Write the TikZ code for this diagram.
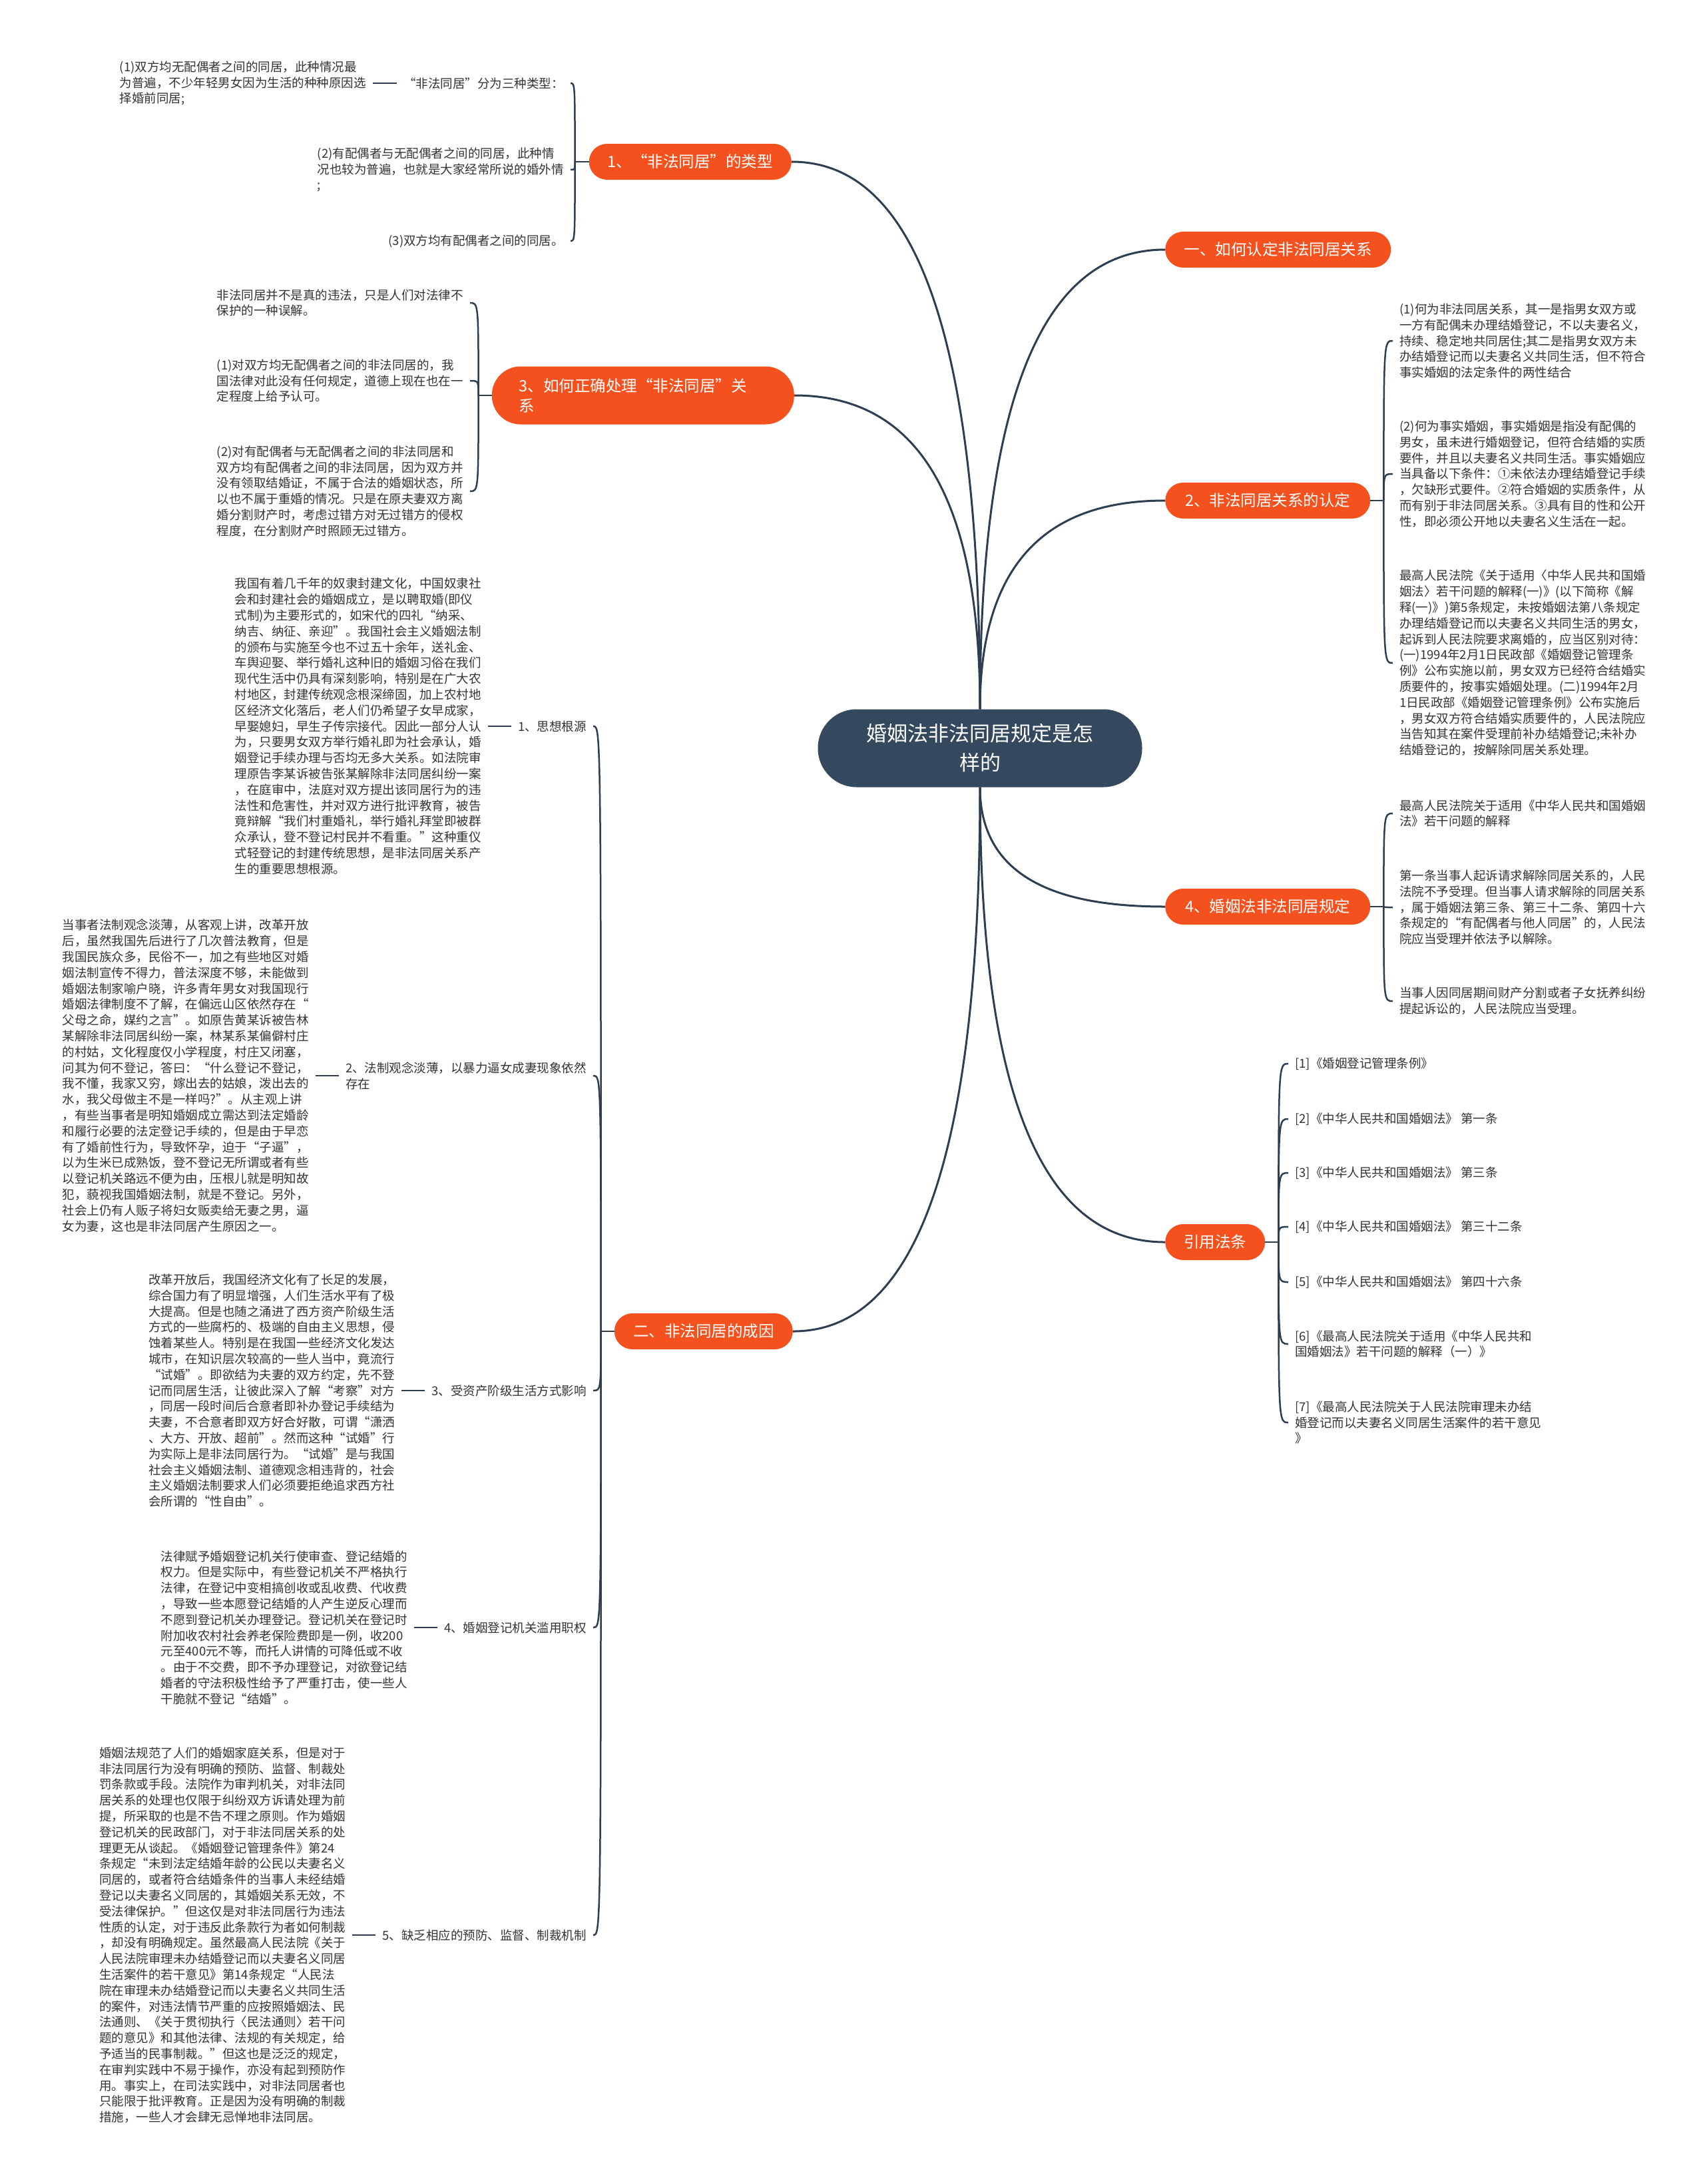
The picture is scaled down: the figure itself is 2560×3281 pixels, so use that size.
\documentclass[tikz,border=0pt]{standalone}
\usepackage{fontspec}
\newfontfamily\cnfont{Noto Sans CJK SC}
\usetikzlibrary{positioning}

\definecolor{hubblue}{HTML}{34495E}
\definecolor{branchred}{HTML}{F4511E}
\definecolor{linkblue}{HTML}{2C3E50}
\definecolor{bodygray}{HTML}{333333}

\begin{document}
\begin{tikzpicture}[x=1pt, y=-1pt,
  hub/.style={fill=hubblue, text=white, rounded corners=58pt, minimum width=487pt, minimum height=117pt, align=center, font=\cnfont\fontsize{31}{44}\selectfont},
  branch/.style={fill=branchred, text=white, rounded corners=27pt, minimum height=54pt, inner xsep=28pt, font=\cnfont\fontsize{23.5}{30}\selectfont},
  leaf/.style={text=bodygray, align=left, inner xsep=10pt, inner ysep=2pt, font=\cnfont\fontsize{18.5}{23.8}\selectfont},
  trunk/.style={draw=linkblue, line width=3pt},
  twig/.style={draw=linkblue, line width=2.5pt}
]
  \fill[white] (0,0) rectangle (2560,3281);
  \useasboundingbox (0,0) rectangle (2560,3281);

  % centre and main branches
  \node (ctr) [hub] at (1472,1124) {婚姻法非法同居规定是怎\\样的};

  \node (identify) [branch, anchor=west, minimum width=339pt] at (1750,375) {一、如何认定非法同居关系};
  \node (recog) [branch, anchor=west, minimum width=308pt] at (1750,752) {2、非法同居关系的认定};
  \node (rules) [branch, anchor=west, minimum width=308pt] at (1750,1362) {4、婚姻法非法同居规定};
  \node (refs) [branch, anchor=west, minimum width=150pt] at (1750,1866) {引用法条};
  \node (types) [branch, anchor=east, minimum width=299pt] at (1189,243) {1、“非法同居”的类型};
  \node (handle) [branch, anchor=east, text width=372pt, inner xsep=41pt, rounded corners=43pt, minimum height=87pt, align=left] at (1193,594) {3、如何正确处理“非法同居”关\\系};
  \node (causes) [branch, anchor=east, minimum width=268pt] at (1191,2000) {二、非法同居的成因};

  \draw[trunk] (ctr.north) .. controls +(0,-566) and +(-139,0) .. (identify.west);
  \draw[trunk] (ctr.north) .. controls +(0,-257) and +(-139,0) .. (recog.west);
  \draw[trunk] (ctr.south) .. controls +(0,148) and +(-139,0) .. (rules.west);
  \draw[trunk] (ctr.south) .. controls +(0,561) and +(-139,0) .. (refs.west);
  \draw[trunk] (ctr.north) .. controls +(0,-674) and +(142,0) .. (types.east);
  \draw[trunk] (ctr.north) .. controls +(0,-386) and +(140,0) .. (handle.east);
  \draw[trunk] (ctr.south) .. controls +(0,671) and +(140,0) .. (causes.east);

  % types of cohabitation
  \node (typeA) [leaf, anchor=east] at (857,125) {“非法同居”分为三种类型：};
  \node (typeA1) [leaf, left=36pt of typeA] {(1)双方均无配偶者之间的同居，此种情况最\\为普遍，不少年轻男女因为生活的种种原因选\\择婚前同居;};
  \node (typeB) [leaf, anchor=east] at (857,255) {(2)有配偶者与无配偶者之间的同居，此种情\\况也较为普遍，也就是大家经常所说的婚外情\\;};
  \node (typeC) [leaf, anchor=east] at (857,362) {(3)双方均有配偶者之间的同居。};
  \draw[twig] (typeA.west) -- (typeA1.east);
  \coordinate (jT) at ([xshift=-21pt]types.west);
  \draw[twig] (types.west) -- (jT);
  \foreach \kid in {typeA,typeB,typeC}
    \draw[twig] (jT) .. controls (jT |- \kid.east) .. (\kid.east);

  % handling
  \node (handleA) [leaf, anchor=east] at (706,455) {非法同居并不是真的违法，只是人们对法律不\\保护的一种误解。};
  \node (handleB) [leaf, anchor=east] at (706,572) {(1)对双方均无配偶者之间的非法同居的，我\\国法律对此没有任何规定，道德上现在也在一\\定程度上给予认可。};
  \node (handleC) [leaf, anchor=east] at (706,738) {(2)对有配偶者与无配偶者之间的非法同居和\\双方均有配偶者之间的非法同居，因为双方并\\没有领取结婚证，不属于合法的婚姻状态，所\\以也不属于重婚的情况。只是在原夫妻双方离\\婚分割财产时，考虑过错方对无过错方的侵权\\程度，在分割财产时照顾无过错方。};
  \coordinate (jH) at ([xshift=-20pt]handle.west);
  \draw[twig] (handle.west) -- (jH);
  \foreach \kid in {handleA,handleB,handleC}
    \draw[twig] (jH) .. controls (jH |- \kid.east) .. (\kid.east);

  % causes
  \node (cause1) [leaf, anchor=east] at (891,1091) {1、思想根源};
  \node (cause2) [leaf, anchor=east] at (891,1616) {2、法制观念淡薄，以暴力逼女成妻现象依然\\存在};
  \node (cause3) [leaf, anchor=east] at (891,2089) {3、受资产阶级生活方式影响};
  \node (cause4) [leaf, anchor=east] at (891,2445) {4、婚姻登记机关滥用职权};
  \node (cause5) [leaf, anchor=east] at (891,2907) {5、缺乏相应的预防、监督、制裁机制};

  \node (why1) [leaf, left=35pt of cause1] {我国有着几千年的奴隶封建文化，中国奴隶社\\会和封建社会的婚姻成立，是以聘取婚(即仪\\式制)为主要形式的，如宋代的四礼“纳采、\\纳吉、纳征、亲迎”。我国社会主义婚姻法制\\的颁布与实施至今也不过五十余年，送礼金、\\车舆迎娶、举行婚礼这种旧的婚姻习俗在我们\\现代生活中仍具有深刻影响，特别是在广大农\\村地区，封建传统观念根深缔固，加上农村地\\区经济文化落后，老人们仍希望子女早成家，\\早娶媳妇，早生子传宗接代。因此一部分人认\\为，只要男女双方举行婚礼即为社会承认，婚\\姻登记手续办理与否均无多大关系。如法院审\\理原告李某诉被告张某解除非法同居纠纷一案\\，在庭审中，法庭对双方提出该同居行为的违\\法性和危害性，并对双方进行批评教育，被告\\竟辩解“我们村重婚礼，举行婚礼拜堂即被群\\众承认，登不登记村民并不看重。”这种重仪\\式轻登记的封建传统思想，是非法同居关系产\\生的重要思想根源。};
  \node (why2) [leaf, left=35pt of cause2] {当事者法制观念淡薄，从客观上讲，改革开放\\后，虽然我国先后进行了几次普法教育，但是\\我国民族众多，民俗不一，加之有些地区对婚\\姻法制宣传不得力，普法深度不够，未能做到\\婚姻法制家喻户晓，许多青年男女对我国现行\\婚姻法律制度不了解，在偏远山区依然存在“\\父母之命，媒约之言”。如原告黄某诉被告林\\某解除非法同居纠纷一案，林某系某偏僻村庄\\的村姑，文化程度仅小学程度，村庄又闭塞，\\问其为何不登记，答曰：“什么登记不登记，\\我不懂，我家又穷，嫁出去的姑娘，泼出去的\\水，我父母做主不是一样吗?”。从主观上讲\\，有些当事者是明知婚姻成立需达到法定婚龄\\和履行必要的法定登记手续的，但是由于早恋\\有了婚前性行为，导致怀孕，迫于“子逼”，\\以为生米已成熟饭，登不登记无所谓或者有些\\以登记机关路远不便为由，压根儿就是明知故\\犯，藐视我国婚姻法制，就是不登记。另外，\\社会上仍有人贩子将妇女贩卖给无妻之男，逼\\女为妻，这也是非法同居产生原因之一。};
  \node (why3) [leaf, left=35pt of cause3] {改革开放后，我国经济文化有了长足的发展，\\综合国力有了明显增强，人们生活水平有了极\\大提高。但是也随之涌进了西方资产阶级生活\\方式的一些腐朽的、极端的自由主义思想，侵\\蚀着某些人。特别是在我国一些经济文化发达\\城市，在知识层次较高的一些人当中，竟流行\\“试婚”。即欲结为夫妻的双方约定，先不登\\记而同居生活，让彼此深入了解“考察”对方\\，同居一段时间后合意者即补办登记手续结为\\夫妻，不合意者即双方好合好散，可谓“潇洒\\、大方、开放、超前”。然而这种“试婚”行\\为实际上是非法同居行为。“试婚”是与我国\\社会主义婚姻法制、道德观念相违背的，社会\\主义婚姻法制要求人们必须要拒绝追求西方社\\会所谓的“性自由”。};
  \node (why4) [leaf, left=35pt of cause4] {法律赋予婚姻登记机关行使审查、登记结婚的\\权力。但是实际中，有些登记机关不严格执行\\法律，在登记中变相搞创收或乱收费、代收费\\，导致一些本愿登记结婚的人产生逆反心理而\\不愿到登记机关办理登记。登记机关在登记时\\附加收农村社会养老保险费即是一例，收200\\元至400元不等，而托人讲情的可降低或不收\\。由于不交费，即不予办理登记，对欲登记结\\婚者的守法积极性给予了严重打击，使一些人\\干脆就不登记“结婚”。};
  \node (why5) [leaf, left=35pt of cause5] {婚姻法规范了人们的婚姻家庭关系，但是对于\\非法同居行为没有明确的预防、监督、制裁处\\罚条款或手段。法院作为审判机关，对非法同\\居关系的处理也仅限于纠纷双方诉请处理为前\\提，所采取的也是不告不理之原则。作为婚姻\\登记机关的民政部门，对于非法同居关系的处\\理更无从谈起。《婚姻登记管理条件》第24\\条规定“未到法定结婚年龄的公民以夫妻名义\\同居的，或者符合结婚条件的当事人未经结婚\\登记以夫妻名义同居的，其婚姻关系无效，不\\受法律保护。”但这仅是对非法同居行为违法\\性质的认定，对于违反此条款行为者如何制裁\\，却没有明确规定。虽然最高人民法院《关于\\人民法院审理未办结婚登记而以夫妻名义同居\\生活案件的若干意见》第14条规定“人民法\\院在审理未办结婚登记而以夫妻名义共同生活\\的案件，对违法情节严重的应按照婚姻法、民\\法通则、《关于贯彻执行〈民法通则〉若干问\\题的意见》和其他法律、法规的有关规定，给\\予适当的民事制裁。”但这也是泛泛的规定，\\在审判实践中不易于操作，亦没有起到预防作\\用。事实上，在司法实践中，对非法同居者也\\只能限于批评教育。正是因为没有明确的制裁\\措施，一些人才会肆无忌惮地非法同居。};

  \foreach \n in {1,...,5}
    \draw[twig] (cause\n.west) -- (why\n.east);
  \coordinate (jC) at ([xshift=-20pt]causes.west);
  \draw[twig] (causes.west) -- (jC);
  \foreach \kid in {cause1,cause2,cause3,cause4,cause5}
    \draw[twig] (jC) .. controls (jC |- \kid.east) .. (\kid.east);

  % recognition
  \node (recogA) [leaf, anchor=west] at (2092,512) {(1)何为非法同居关系，其一是指男女双方或\\一方有配偶未办理结婚登记，不以夫妻名义，\\持续、稳定地共同居住;其二是指男女双方未\\办结婚登记而以夫妻名义共同生活，但不符合\\事实婚姻的法定条件的两性结合};
  \node (recogB) [leaf, anchor=west] at (2092,712) {(2)何为事实婚姻，事实婚姻是指没有配偶的\\男女，虽未进行婚姻登记，但符合结婚的实质\\要件，并且以夫妻名义共同生活。事实婚姻应\\当具备以下条件：①未依法办理结婚登记手续\\，欠缺形式要件。②符合婚姻的实质条件，从\\而有别于非法同居关系。③具有目的性和公开\\性，即必须公开地以夫妻名义生活在一起。};
  \node (recogC) [leaf, anchor=west] at (2092,996) {最高人民法院《关于适用〈中华人民共和国婚\\姻法〉若干问题的解释(一)》(以下简称《解\\释(一)》)第5条规定，未按婚姻法第八条规定\\办理结婚登记而以夫妻名义共同生活的男女，\\起诉到人民法院要求离婚的，应当区别对待：\\(一)1994年2月1日民政部《婚姻登记管理条\\例》公布实施以前，男女双方已经符合结婚实\\质要件的，按事实婚姻处理。(二)1994年2月\\1日民政部《婚姻登记管理条例》公布实施后\\，男女双方符合结婚实质要件的，人民法院应\\当告知其在案件受理前补办结婚登记;未补办\\结婚登记的，按解除同居关系处理。};
  \coordinate (jR) at ([xshift=20pt]recog.east);
  \draw[twig] (recog.east) -- (jR);
  \foreach \kid in {recogA,recogB,recogC}
    \draw[twig] (jR) .. controls (jR |- \kid.west) .. (\kid.west);

  % rules
  \node (rulesA) [leaf, anchor=west] at (2092,1222) {最高人民法院关于适用《中华人民共和国婚姻\\法》若干问题的解释};
  \node (rulesB) [leaf, anchor=west] at (2092,1363) {第一条当事人起诉请求解除同居关系的，人民\\法院不予受理。但当事人请求解除的同居关系\\，属于婚姻法第三条、第三十二条、第四十六\\条规定的“有配偶者与他人同居”的，人民法\\院应当受理并依法予以解除。};
  \node (rulesC) [leaf, anchor=west] at (2092,1504) {当事人因同居期间财产分割或者子女抚养纠纷\\提起诉讼的，人民法院应当受理。};
  \coordinate (jU) at ([xshift=20pt]rules.east);
  \draw[twig] (rules.east) -- (jU);
  \foreach \kid in {rulesA,rulesB,rulesC}
    \draw[twig] (jU) .. controls (jU |- \kid.west) .. (\kid.west);

  % cited laws
  \node (ref1) [leaf, anchor=west] at (1935,1598) {[1]《婚姻登记管理条例》};
  \node (ref2) [leaf, anchor=west] at (1935,1681) {[2]《中华人民共和国婚姻法》 第一条};
  \node (ref3) [leaf, anchor=west] at (1935,1762) {[3]《中华人民共和国婚姻法》 第三条};
  \node (ref4) [leaf, anchor=west] at (1935,1843) {[4]《中华人民共和国婚姻法》 第三十二条};
  \node (ref5) [leaf, anchor=west] at (1935,1926) {[5]《中华人民共和国婚姻法》 第四十六条};
  \node (ref6) [leaf, anchor=west] at (1935,2019) {[6]《最高人民法院关于适用《中华人民共和\\国婚姻法》若干问题的解释（一）》};
  \node (ref7) [leaf, anchor=west] at (1935,2137) {[7]《最高人民法院关于人民法院审理未办结\\婚登记而以夫妻名义同居生活案件的若干意见\\》};
  \coordinate (jF) at ([xshift=20pt]refs.east);
  \draw[twig] (refs.east) -- (jF);
  \foreach \n in {1,...,7}
    \draw[twig] (jF) .. controls (jF |- ref\n.west) .. (ref\n.west);
\end{tikzpicture}
\end{document}
